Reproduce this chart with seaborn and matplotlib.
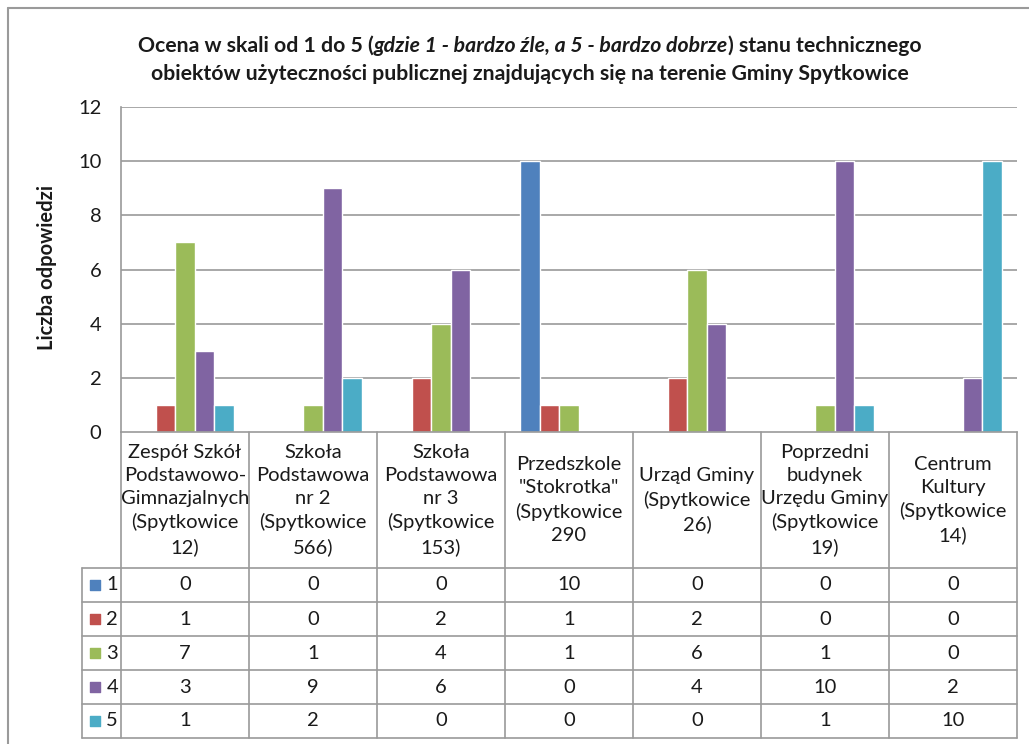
import matplotlib
matplotlib.use("Agg")
import matplotlib.pyplot as plt
import matplotlib.transforms as mtransforms
import seaborn as sns
import pandas as pd

sns.set_theme(style="white")
plt.rcParams['font.family'] = ['Lato', 'DejaVu Sans']

CATEGORIES = [
    "Zespół Szkół\nPodstawowo-\nGimnazjalnych\n(Spytkowice\n12)",
    "Szkoła\nPodstawowa\nnr 2\n(Spytkowice\n566)",
    "Szkoła\nPodstawowa\nnr 3\n(Spytkowice\n153)",
    "Przedszkole\n\"Stokrotka\"\n(Spytkowice\n290",
    "Urząd Gminy\n(Spytkowice\n26)",
    "Poprzedni\nbudynek\nUrzędu Gminy\n(Spytkowice\n19)",
    "Centrum\nKultury\n(Spytkowice\n14)",
]
RATINGS = ["1", "2", "3", "4", "5"]
R1 = [0, 0, 0, 10, 0, 0, 0]
R2 = [1, 0, 2, 1, 2, 0, 0]
R3 = [7, 1, 4, 1, 6, 1, 0]
R4 = [3, 9, 6, 0, 4, 10, 2]
R5 = [1, 2, 0, 0, 0, 1, 10]
COLORS = ["#4F81BD", "#C0504D", "#9BBB59", "#8064A2", "#4BACC6"]

W, H = 1029, 744
GRID = "#9a9a9a"
TXT = "#1a1a1a"
FS = 14.5

rows = []
for rating, vals in zip(RATINGS, [R1, R2, R3, R4, R5]):
    for cat, v in zip(CATEGORIES, vals):
        rows.append({"cat": cat, "rating": rating, "value": v})
df = pd.DataFrame(rows)

fig = plt.figure(figsize=(W / 100, H / 100), dpi=100)
fig.patch.set_facecolor("white")
ax = fig.add_axes([121 / W, 1 - 432 / H, 896 / W, 325 / H])

sns.barplot(data=df, x="cat", y="value", hue="rating", order=CATEGORIES,
            hue_order=RATINGS, palette=COLORS, width=0.76, saturation=1,
            legend=False, ax=ax)

ax.set_ylim(0, 12)
ax.set_xlim(-0.5, 6.5)
ax.set_yticks(range(0, 13, 2))
ax.set_yticklabels([str(v) for v in range(0, 13, 2)], fontsize=FS, color=TXT)
ax.tick_params(axis="y", length=0, pad=14)
ax.set_xticks([])
ax.set_xlabel("")
ax.set_ylabel("")
for v in range(2, 13, 2):
    ax.axhline(v, color=GRID, lw=1.2, zorder=0)
for s in ["top", "right"]:
    ax.spines[s].set_visible(False)
for s in ["left", "bottom"]:
    ax.spines[s].set_color(GRID)
    ax.spines[s].set_linewidth(1.2)

fig.text(47 / W, 1 - 267 / H, "Liczba odpowiedzi", rotation=90, ha="center",
         va="center", fontsize=FS, fontweight="bold", color=TXT)

# data table under the axis
tr = mtransforms.blended_transform_factory(ax.transData, ax.transAxes)
ph = 325.0
y_head = -(568 - 432) / ph
row_h = 34 / ph
y_bot = y_head - 5 * row_h
x_left = -0.5 - (121 - 82) / 128.0
lk = dict(color=GRID, lw=1.2, transform=tr, clip_on=False)
for i in range(8):
    ax.plot([i - 0.5, i - 0.5], [0, y_bot], **lk)
ax.plot([x_left, x_left], [y_head, y_bot], **lk)
for r in range(6):
    y = y_head - r * row_h
    ax.plot([x_left, 6.5], [y, y], **lk)

for i, cat in enumerate(CATEGORIES):
    ax.text(i, y_head / 2, cat, transform=tr, ha="center", va="center",
            fontsize=FS, linespacing=1.42, color=TXT)

for r, (rating, vals) in enumerate(zip(RATINGS, [R1, R2, R3, R4, R5])):
    yc = y_head - (r + 0.5) * row_h
    for i, v in enumerate(vals):
        ax.text(i, yc, str(v), transform=tr, ha="center", va="center",
                fontsize=FS, color=TXT)
    ax.text(x_left + 0.19, yc, rating, transform=tr, ha="left", va="center",
            fontsize=FS, color=TXT)
    ax.scatter([x_left + 0.1], [yc], marker="s", s=55, color=COLORS[r],
               transform=tr, clip_on=False)

# title with an italic part
renderer = fig.canvas.get_renderer()
def rich_line(y_px, parts, cx=530):
    texts = []
    for s, style in parts:
        t = fig.text(0, 1 - y_px / H, s, fontsize=15.3, fontweight="bold",
                     fontstyle=style, va="center", ha="left", color=TXT)
        texts.append(t)
    widths = [t.get_window_extent(renderer).width for t in texts]
    x = cx - sum(widths) / 2
    for t, w in zip(texts, widths):
        t.set_x(x / W)
        x += w

rich_line(46, [("Ocena w skali od 1 do 5 (", "normal"),
               ("gdzie 1 - bardzo źle, a 5 - bardzo dobrze", "italic"),
               (") stanu technicznego", "normal")])
rich_line(74, [("obiektów użyteczności publicznej znajdujących się na terenie Gminy Spytkowice", "normal")])

# outer chart border
fig.add_artist(plt.Line2D([8 / W, 8 / W], [0, 1 - 8 / H], color=GRID, lw=1.5))
fig.add_artist(plt.Line2D([8 / W, 1], [1 - 8 / H, 1 - 8 / H], color=GRID, lw=1.5))

fig.savefig("out.png", dpi=100)
